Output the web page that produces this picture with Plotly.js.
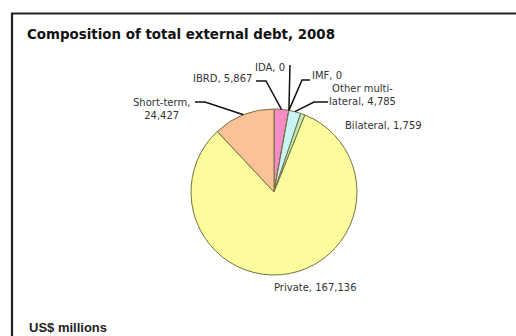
<!DOCTYPE html>
<html><head><meta charset="utf-8">
<script src="https://cdn.plot.ly/plotly-3.0.1.min.js"></script>
<style>html,body{margin:0;padding:0;background:#fff}#chart{width:516px;height:336px}</style>
</head><body><div id="chart"></div>
<script>
// ---- data ----
const categories = ['IBRD', 'IDA', 'IMF', 'Other multilateral', 'Bilateral', 'Private', 'Short-term'];
const labelNames = ['IBRD', 'IDA', 'IMF', 'Other multi-<br>lateral', 'Bilateral', 'Private', 'Short-term'];
const values = [5867, 0, 0, 4785, 1759, 167136, 24427];
const titleText = 'Composition of total external debt, 2008';
const unitText = 'US$ millions';

// ---- styling / layout ----
const W = 516, H = 336;
const colors = ['#f58cc8', '#e8e8e8', '#e8e8e8', '#c8f4f8', '#b9ebb3', '#fcfc9c', '#fbc297'];
const labelSep = [' ', ' ', ' ', ' ', ' ', ' ', '<br>'];
// label centres in pixels
const labelPos = [[222, 78], [270, 68], [327, 75], [362, 94.5], [383, 125], [315, 287], [161, 108.5]];
// leader line points (before the slice tip), pixels
const leaders = [
  [[256, 81], [266, 81]],
  [[290, 65]],
  [[310, 80], [302, 80]],
  [[328, 102], [314, 102]],
  null, null,
  [[195, 102], [205, 102]]
];
const cx = 274, cy = 192, R = 83;

const px = x => x / W;
const py = y => 1 - y / H;

const total = values.reduce((a, b) => a + b, 0);
let cum = 0;
const tips = values.map(v => {
  const a = 2 * Math.PI * (cum + v / 2) / total;
  cum += v;
  return [cx + R * Math.sin(a), cy - R * Math.cos(a)];
});

const annotations = categories.map((c, i) => ({
  xref: 'paper', yref: 'paper',
  x: px(labelPos[i][0]), y: py(labelPos[i][1]),
  xanchor: 'center', yanchor: 'middle', align: 'center',
  text: labelNames[i] + ',' + labelSep[i] + values[i].toLocaleString('en-US'),
  showarrow: false,
  font: {family: 'DejaVu Sans', size: 10, color: '#333'}
}));
annotations.push({
  xref: 'paper', yref: 'paper', x: px(27), y: py(327),
  xanchor: 'left', yanchor: 'middle', text: unitText, showarrow: false,
  font: {family: 'Liberation Sans, Arial', size: 13, color: '#222', weight: 'bold'}
});

const shapes = [{
  type: 'rect', xref: 'paper', yref: 'paper',
  x0: px(12), x1: 1.2, y0: -0.2, y1: py(13.5),
  line: {color: '#222', width: 2.2}, layer: 'below'
}];
leaders.forEach((pts, i) => {
  if (!pts) return;
  const all = pts.concat([tips[i]]);
  const d = all.map((p, k) => (k ? 'L ' : 'M ') + px(p[0]) + ' ' + py(p[1])).join(' ');
  shapes.push({type: 'path', xref: 'paper', yref: 'paper', path: d,
    line: {color: '#111', width: 1.5}});
});

const trace = {
  type: 'pie',
  labels: categories,
  values: values,
  sort: false,
  direction: 'clockwise',
  rotation: 0,
  textinfo: 'none',
  hoverinfo: 'none',
  showlegend: false,
  marker: {colors: colors, line: {color: '#757040', width: 1}},
  domain: {x: [px(cx - R), px(cx + R)], y: [py(cy + R), py(cy - R)]}
};

const layout = {
  width: W, height: H,
  margin: {l: 0, r: 0, t: 0, b: 0},
  paper_bgcolor: '#fff',
  title: {
    text: titleText, x: px(27), xref: 'paper', xanchor: 'left',
    y: 1 - 34 / H, yref: 'container', yanchor: 'middle',
    font: {family: 'DejaVu Sans', size: 13.4, color: '#111', weight: 'bold'}
  },
  annotations: annotations,
  shapes: shapes,
  showlegend: false
};

Plotly.newPlot('chart', [trace], layout, {staticPlot: true, displayModeBar: false});
</script>
</body></html>
